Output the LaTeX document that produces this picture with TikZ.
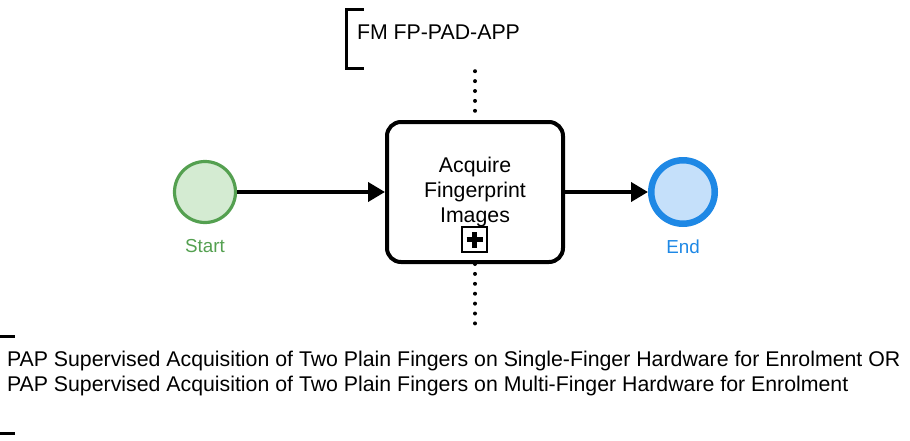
\documentclass[tikz,border=0pt]{standalone}
\usepackage{fontspec}
\setmainfont{Liberation Sans}
\usetikzlibrary{arrows.meta, shapes}

\definecolor{startline}{RGB}{84,160,80}
\definecolor{startfill}{RGB}{212,235,210}
\definecolor{endline}{RGB}{30,136,229}
\definecolor{endfill}{RGB}{197,224,250}

\begin{document}
\begin{tikzpicture}[
	x = 1pt, y = -1pt,
	every node/.style={font=\fontsize{21.3}{25}\selectfont},
	flow/.style={line width=3.8pt, -{Triangle[length=17pt, width=19pt]}},
	assoc/.style={line width=4pt, line cap=round, dash pattern=on 0pt off 9.9pt},
	bracket/.style={line width=3pt},
	note/.style={rectangle, inner sep=0pt},
	startevent/.style={circle, draw=startline, fill=startfill, line width=3.2pt, minimum size=61pt, inner sep=0pt,
		label={[text=startline, inner sep=0pt, label distance=15pt, font=\fontsize{18.8}{22}\selectfont]below:Start}},
	endevent/.style={circle, draw=endline, fill=endfill, line width=6.5pt, minimum size=63.5pt, inner sep=0pt,
		label={[text=endline, inner sep=0pt, label distance=13pt, font=\fontsize{18.8}{22}\selectfont]below:End}},
	task/.style={rectangle, rounded corners=14pt, draw, line width=4pt, minimum width=176pt, minimum height=140pt, align=center},
	marker/.style={rectangle, draw, line width=1.4pt, minimum size=25pt, inner sep=0pt},
	]
	
	\useasboundingbox (0,0) rectangle (910,440);
	
	\node (start) [startevent] at (205,192) {};
	\node (task) [task] at (475,192) {Acquire\\Fingerprint\\Images};
	\node (sub) [marker] at (474.5,239.5) {};
	\draw[line width=4.2pt] ([xshift=-8pt]sub.center) -- ([xshift=8pt]sub.center);
	\draw[line width=4.2pt] ([yshift=-8pt]sub.center) -- ([yshift=8pt]sub.center);
	\node (end) [endevent] at (683,192) {};
	
	\draw[flow] (start) -- (task);
	\draw[flow] (task) -- (end);
	
	% text annotations
	\node (fmnote) [note, minimum width=256pt, minimum height=58pt] at (475,39) {};
	\node (fmtext) [anchor=west, inner sep=0pt] at ([xshift=10pt, yshift=7pt]fmnote.west) {FM FP-PAD-APP};
	\draw[bracket] ([xshift=17pt]fmnote.north west) -- (fmnote.north west) -- (fmnote.south west) -- ([xshift=17pt]fmnote.south west);
	
	\node (papnote) [note, minimum width=954pt, minimum height=96pt] at (475,385) {};
	\node (paptext) [anchor=west, inner sep=0pt, align=left] at ([xshift=9pt, yshift=12pt]papnote.west)
	{PAP Supervised Acquisition of Two Plain Fingers on Single-Finger Hardware for Enrolment OR\\
	PAP Supervised Acquisition of Two Plain Fingers on Multi-Finger Hardware for Enrolment};
	\draw[bracket] ([xshift=17pt]papnote.north west) -- (papnote.north west) -- (papnote.south west) -- ([xshift=17pt]papnote.south west);
	
	\draw[assoc, shorten <=3pt] (fmnote.south) -- (task.north);
	\draw[assoc, shorten >=5pt] (task.south) -- (papnote.north);
\end{tikzpicture}
\end{document}
